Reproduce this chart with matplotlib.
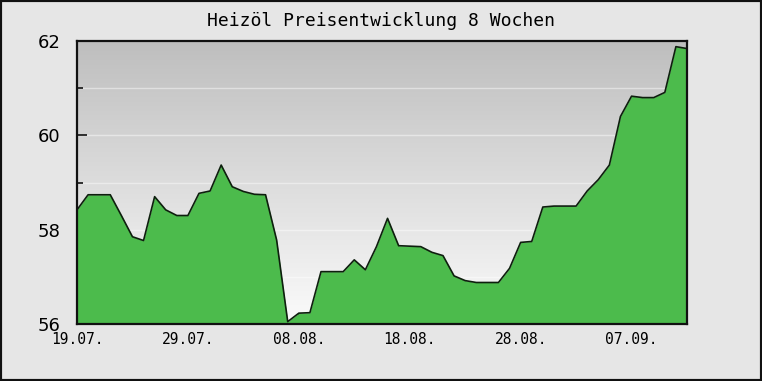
import numpy as np
import matplotlib
matplotlib.use("Agg")
import matplotlib.pyplot as plt
from matplotlib.patches import Rectangle

# Heizöl Preis, täglich ab 19.07. (Tag 0) bis 12.09. (Tag 55)
preis = [58.42, 58.74, 58.74, 58.74, 58.30, 57.85, 57.77, 58.70, 58.42, 58.30,
         58.30, 58.77, 58.82, 59.37, 58.91, 58.81, 58.75, 58.74, 57.78, 56.05,
         56.23, 56.24, 57.11, 57.11, 57.11, 57.36, 57.15, 57.64, 58.24, 57.66,
         57.65, 57.64, 57.52, 57.45, 57.02, 56.92, 56.88, 56.88, 56.88, 57.18,
         57.73, 57.75, 58.48, 58.50, 58.50, 58.50, 58.82, 59.06, 59.37, 60.40,
         60.83, 60.80, 60.80, 60.91, 61.88, 61.84]
tage = np.arange(len(preis))

tick_tage = [0, 10, 20, 30, 40, 50]
tick_labels = ["19.07.", "29.07.", "08.08.", "18.08.", "28.08.", "07.09."]
y_ticks = [56, 58, 60, 62]

BG = "#e6e6e6"
GREEN = "#4cbb4c"

fig = plt.figure(figsize=(7.62, 3.81), dpi=100, facecolor=BG)
fig.patches.append(Rectangle((0, 0), 1, 1, transform=fig.transFigure,
                             fill=False, edgecolor="#111111", lw=3))
ax = fig.add_axes([77 / 762, 57 / 381, 610 / 762, 283 / 381])

xmin, xmax, ymin, ymax = 0, 55, 56, 62
# Verlauf im Plotbereich: oben grau, unten fast weiß
grad = np.linspace(0, 1, 256).reshape(-1, 1)
cmap = matplotlib.colors.LinearSegmentedColormap.from_list("g", ["#bebebe", "#fbfbfb"])
ax.imshow(grad, extent=[xmin, xmax, ymin, ymax], origin="upper", aspect="auto",
          cmap=cmap, zorder=0, interpolation="bilinear")
for y in range(57, 62):
    ax.axhline(y, color="white", lw=1, alpha=0.45, zorder=1)

ax.fill_between(tage, preis, ymin, color=GREEN, zorder=2, lw=0)
ax.plot(tage, preis, color="#0e1f0e", lw=1.2, zorder=3)

ax.set_xlim(xmin, xmax)
ax.set_ylim(ymin, ymax)

ax.set_xticks(tick_tage)
ax.set_xticklabels(tick_labels, family="DejaVu Sans Mono", fontsize=10.5)
ax.set_xticks([5, 15, 25, 35, 45], minor=True)
ax.set_yticks(y_ticks)
ax.set_yticklabels([str(v) for v in y_ticks], fontsize=13)
ax.set_yticks([57, 59, 61], minor=True)
ax.tick_params(which="major", direction="in", length=7, width=1.2, color="#111")
ax.tick_params(which="minor", direction="in", length=4.5, width=1.2, color="#111")
ax.tick_params(axis="x", which="major", pad=6)
ax.tick_params(axis="y", which="major", pad=12)
for s in ax.spines.values():
    s.set_linewidth(1.6)
    s.set_color("#111")
    s.set_zorder(5)

fig.text(0.5, 1 - 21 / 381, "Heizöl Preisentwicklung 8 Wochen", ha="center",
         va="center", family="DejaVu Sans Mono", fontsize=13)

fig.savefig("out.png", dpi=100, facecolor=BG)
